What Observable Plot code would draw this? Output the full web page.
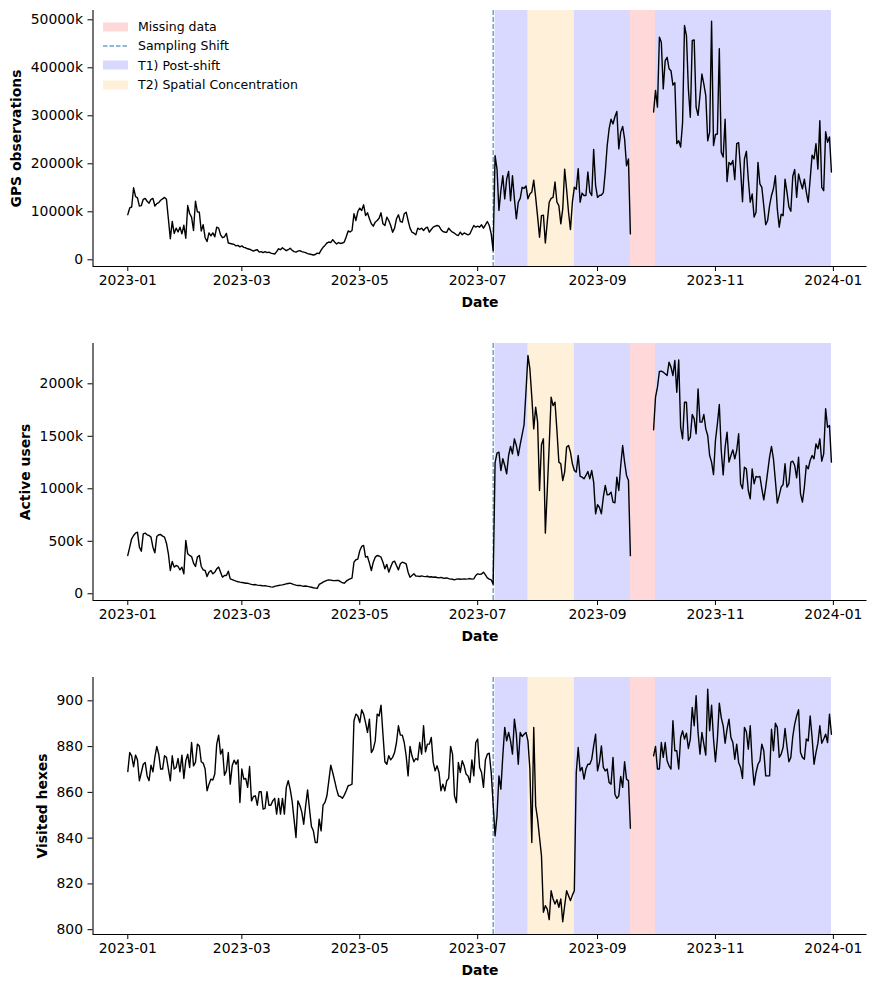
<!DOCTYPE html>
<html>
<head>
<meta charset="utf-8">
<script src="https://cdn.jsdelivr.net/npm/d3@7"></script>
<script src="https://cdn.jsdelivr.net/npm/@observablehq/plot@0.6"></script>
<style>
  body { margin: 0; background: #fff; }
  #chart { position: relative; width: 876px; font-family: "DejaVu Sans", sans-serif; }
  #chart svg { display: block; }
  .legend { position: absolute; left: 103px; top: 17px; font: 12.5px "DejaVu Sans", sans-serif; color: #000; }
  .legend .row { display: flex; align-items: center; height: 19.3px; }
  .legend svg { margin-right: 10px; }
</style>
</head>
<body>
<div id="chart"></div>
<script>
// Daily series for 2023 (index 0 = 2023-01-01); null = no data (18 Sep – 30 Sep outage)
const gpsObservationsK = [
  9400, 10800, 11000, 15000, 13200, 12900, 11200, 11300, 12600, 12800,
  12200, 11800, 12600, 12800, 11200, 11700, 11900, 12400, 12700, 13000,
  12600, 8500, 4400, 8000, 5500, 6600, 5800, 6800, 5400, 7200,
  4500, 11300, 9600, 8900, 6100, 12200, 10000, 9900, 6000, 7300,
  4600, 3800, 5600, 5000, 5600, 4800, 6800, 6600, 5200, 4600,
  4800, 5500, 3500, 3400, 3300, 3200, 2900, 3000, 2700, 2900,
  2600, 2500, 2300, 2200, 2000, 1800, 2000, 2100, 1600, 1700,
  1500, 1700, 1500, 1600, 1400, 1300, 1200, 1700, 2300, 2100,
  2500, 2200, 1900, 2100, 2400, 2000, 1700, 1600, 1800, 1900,
  1700, 1600, 1500, 1300, 1200, 1100, 1000, 1100, 1400, 1300,
  2000, 2600, 3000, 3500, 3700, 3600, 4200, 3700, 3300, 3600,
  3400, 3500, 3700, 4800, 6000, 5800, 6100, 9580, 8190, 10060,
  10760, 10270, 11460, 9230, 9790, 8540, 7500, 7010, 7840, 8190,
  8670, 9790, 7500, 7150, 8880, 8190, 7150, 5750, 6590, 8540,
  9380, 7980, 7840, 9580, 9920, 8190, 6590, 5750, 5540, 5200,
  6590, 6310, 6590, 6100, 6590, 6800, 5750, 6310, 6800, 7010,
  7150, 7010, 6310, 5900, 5750, 5750, 6590, 6100, 5750, 5540,
  5200, 5060, 5750, 5200, 5600, 5410, 5200, 5410, 6310, 7150,
  6800, 7010, 6800, 7290, 6590, 7290, 7980, 7150, 5400, 1900,
  21700, 18900, 10300, 14400, 17500, 12700, 16800, 18400, 12300, 17500,
  12700, 8540, 12000, 12800, 15100, 14900, 15400, 12700, 13700, 14100,
  16600, 13000, 9000, 4700, 9200, 9300, 3500, 7900, 12000, 12800,
  13000, 16200, 12000, 11300, 7500, 10600, 18900, 14700, 9900, 6300,
  12000, 15100, 14700, 19000, 12000, 13900, 13400, 13400, 18300, 14100,
  13400, 23000, 15500, 13000, 13400, 13500, 14000, 18300, 23800, 27300,
  29300, 28300, 29800, 30900, 23100, 26600, 27800, 25200, 19600, 21000,
  5400, null, null, null, null, null, null, null, null, null,
  null, null, 30800, 35300, 31800, 46400, 45300, 35600, 41500, 42200,
  39800, 39400, 36400, 36900, 24200, 24800, 23500, 28600, 48800, 46700,
  35600, 29700, 45700, 45800, 31800, 30100, 34200, 38700, 36600, 34200,
  24800, 26600, 49700, 23800, 26100, 26200, 44000, 22400, 21400, 29300,
  16300, 20300, 19800, 20700, 16700, 24200, 24400, 18900, 12100, 21000,
  22600, 16800, 12000, 13700, 8900, 9900, 20300, 15800, 15100, 11300,
  7300, 8200, 11300, 13400, 14800, 17500, 10600, 6800, 9500, 9200,
  16800, 14100, 11000, 10100, 17400, 18800, 13000, 17900, 16200, 14800,
  16800, 14100, 12000, 16800, 21800, 21000, 24200, 18900, 29000, 15100,
  14400, 26700, 24500, 25600, 18300
];

const activeUsersK = [
  365, 444, 524, 555, 578, 587, 444, 406, 571, 578,
  562, 555, 540, 444, 390, 546, 562, 565, 549, 540,
  482, 381, 222, 308, 254, 270, 260, 228, 254, 190,
  508, 381, 365, 355, 292, 260, 349, 365, 260, 228,
  222, 165, 206, 222, 190, 206, 238, 254, 206, 158,
  174, 174, 215, 142, 135, 127, 120, 115, 111, 108,
  105, 100, 101, 95, 90, 86, 88, 82, 80, 79,
  75, 78, 73, 70, 66, 63, 70, 75, 79, 82,
  85, 90, 95, 98, 101, 95, 88, 82, 79, 80,
  75, 72, 74, 70, 66, 62, 57, 54, 51, 89,
  100, 111, 120, 128, 133, 130, 127, 125, 128, 127,
  115, 105, 101, 120, 133, 142, 150, 301, 324, 330,
  410, 451, 460, 349, 355, 292, 222, 301, 349, 365,
  360, 349, 301, 238, 280, 206, 254, 301, 311, 270,
  228, 286, 301, 295, 286, 206, 158, 174, 190, 170,
  168, 165, 170, 166, 163, 167, 160, 162, 158, 160,
  155, 152, 156, 150, 148, 152, 145, 140, 138, 133,
  140, 142, 138, 140, 142, 140, 142, 145, 140, 142,
  174, 190, 185, 188, 206, 180, 152, 140, 133, 90,
  1250, 1340, 1349, 1174, 1286, 1222, 1143, 1317, 1403, 1333,
  1476, 1412, 1317, 1422, 1517, 1612, 1930, 2270, 2143, 1873,
  1571, 1778, 1635, 984, 1422, 1476, 578, 984, 1412, 1873,
  1793, 1825, 1555, 1254, 1238, 1079, 1159, 1397, 1412, 1349,
  1238, 1174, 1159, 1317, 1118, 1111, 1095, 1127, 1165, 1095,
  1174, 1064, 762, 848, 822, 762, 921, 1032, 943, 946,
  968, 873, 866, 1111, 984, 1222, 1412, 1254, 1127, 1079,
  363, null, null, null, null, null, null, null, null, null,
  null, null, 1562, 1873, 1968, 2117, 2120, 2111, 2095, 2079,
  2206, 2159, 2079, 2222, 1920, 2228, 1587, 1476, 1825, 1825,
  1460, 1492, 1708, 1666, 1524, 1952, 1635, 1635, 1708, 1571,
  1508, 1317, 1254, 1136, 1460, 1619, 1803, 1365, 1133, 1397,
  1540, 1254, 1317, 1371, 1286, 1365, 1524, 1048, 1000, 1206,
  1190, 984, 905, 1190, 1048, 1118, 1111, 1118, 1000, 895,
  1016, 1159, 1302, 1403, 1286, 1079, 864, 937, 1016, 1041,
  1238, 1016, 1048, 1254, 1263, 1222, 1105, 1302, 952, 873,
  1016, 1222, 1190, 1270, 1317, 1286, 1428, 1381, 1476, 1263,
  1333, 1762, 1587, 1603, 1254
];

const visitedHexes = [
  869.1, 877.4, 876, 871.2, 876.3, 874.2, 865.1, 868.7, 872.3, 873.1,
  867.2, 865.1, 871.9, 869, 875.3, 880.1, 876.7, 870.2, 870.2, 876,
  875.3, 870.2, 865.1, 876, 870.2, 870.9, 874.8, 869, 876.3, 866.1,
  873.8, 876.7, 870.9, 881.8, 871.6, 873.1, 881.1, 880.3, 873.4, 872.8,
  870.2, 860.7, 863.6, 865.8, 865.4, 868, 881.1, 885, 876.7, 878.9,
  867.5, 869.4, 877.4, 863.6, 871.6, 874.1, 872.3, 874.2, 855.6, 870.2,
  865.8, 866.1, 862.2, 871.3, 856.3, 858.2, 858.5, 854.4, 860.3, 860.3,
  852.7, 853, 860.3, 854.4, 854.4, 856.3, 857.4, 850.5, 857.4, 850.5,
  857.4, 850.5, 862.2, 865.1, 861.4, 856.3, 848.3, 840.3, 856.3, 854.4,
  851.5, 846.1, 854.1, 861.1, 852.7, 845.1, 843.2, 838.1, 838.1, 848.3,
  843.2, 854.4, 855.6, 858.5, 865.1, 871.9, 868.7, 865.1, 861.4, 858.5,
  858.2, 857.4, 858.8, 860.7, 862.9, 863.2, 863.6, 891.3, 894.2, 893.4,
  890.5, 896.1, 894.2, 890.5, 886.2, 892, 877.4, 878.9, 882.5, 894.2,
  893.4, 898.1, 885.4, 873.4, 872.3, 876, 874.2, 875.3, 877.4, 881.8,
  889.1, 885, 885, 881.8, 876, 867.2, 880.1, 876, 873.4, 874.8,
  874.2, 881.8, 876.7, 889.1, 877.7, 881.1, 881.1, 884, 873.1, 869.4,
  871.6, 868.7, 860.7, 863.6, 860.7, 865.1, 866.1, 880.1, 876.7, 858.5,
  855.6, 873.1, 868.7, 873.8, 871.6, 868, 867.2, 864.3, 874.2, 867.2,
  881.8, 883.3, 870.9, 868.7, 862.2, 874.2, 876.7, 877.1, 868.7, 854.9,
  841, 849.8, 867.2, 861.4, 876, 888.4, 882.5, 886.2, 882.5, 876.7,
  892, 885.4, 872.3, 886.2, 884.4, 885.4, 886.2, 882.5, 870.2, 838.1,
  888.4, 854.1, 848.3, 840.3, 832.3, 807.6, 810.5, 809, 804.4, 817,
  813.4, 811.2, 813.1, 809.8, 813.4, 803.5, 810.5, 817, 814.8, 812.7,
  815.1, 817, 868.7, 879.6, 869.4, 870.9, 865.8, 870.2, 872.3, 872.3,
  874.5, 880.3, 885.4, 869.4, 873.1, 880.3, 870.9, 869.4, 870.2, 864.3,
  863.6, 875.3, 859.2, 857.4, 858.5, 867, 862.2, 873.4, 865.8, 865.1,
  844.3, null, null, null, null, null, null, null, null, null,
  null, null, 876, 880.1, 870.2, 870.2, 881.8, 875.3, 881.8, 873.8,
  871.6, 870.2, 891.3, 878.2, 878.2, 870.2, 884, 886.9, 883.3, 885.9,
  879.2, 883.3, 897.1, 889.1, 902.2, 886.2, 876.7, 886.2, 881.1, 876.3,
  905.1, 886.9, 898.1, 883.3, 873.4, 883.3, 899, 892.7, 889.1, 881.5,
  887.6, 892, 884, 881.8, 874.5, 881.1, 873.1, 870.9, 866.1, 888.4,
  886.5, 878.9, 889.1, 873.1, 863.2, 868.7, 872.3, 873.8, 881.1, 878.2,
  867.2, 867.2, 867.2, 887.6, 878.2, 890.2, 888.4, 875.3, 876.7, 879.6,
  887.9, 880.1, 873.4, 875.3, 884.4, 889.8, 893.4, 896.1, 877.4, 875.3,
  874.5, 883.3, 882.5, 893.4, 884, 872.3, 877.4, 881.5, 889.1, 881.5,
  883.3, 885.4, 881.8, 894.2, 885.4
];

// Periods shaded behind the series (T1 is drawn first, the others on top)
const periodNames  = ["T1) Post-shift", "T2) Spatial Concentration", "Missing data"];
const periodStarts = ["2023-07-10", "2023-07-27", "2023-09-18"];
const periodEnds   = ["2023-12-31", "2023-08-20", "2023-10-01"];
const periodFills  = ["#d9d9ff", "#fff1d9", "#ffd9d9"];
const samplingShift = "2023-07-09";

const xTickDates = ["2023-01-01", "2023-03-01", "2023-05-01", "2023-07-01", "2023-09-01", "2023-11-01", "2024-01-01"];

const panelLabels = ["GPS observations", "Active users", "Visited hexes"];
const gpsTicks = [0, 10000, 20000, 30000, 40000, 50000];
const userTicks = [0, 500, 1000, 1500, 2000];
const hexTicks = [800, 820, 840, 860, 880, 900];

// ---------------------------------------------------------------------------
const parse = d3.utcParse("%Y-%m-%d");
const start = parse("2023-01-01");
const days = d3.utcDay.range(start, parse("2024-01-01"));
[gpsObservationsK, activeUsersK, visitedHexes].forEach((s, i) => {
  if (s.length !== days.length) throw new Error(`series ${i} has ${s.length} values`);
});

const DAY = 864e5;
const xDomain = [new Date(+start - 18.0 * DAY), new Date(+start + 382.4 * DAY)];
const periods = periodNames.map((name, i) => ({
  name, start: parse(periodStarts[i]), end: parse(periodEnds[i]), fill: periodFills[i]
}));
const kFormat = d => d === 0 ? "0" : `${d}k`;

function panel({values, yDomain, yTicks, yFormat, label, labelX, height, marginBottom}) {
  const data = days.map((date, i) => ({date, value: values[i]}));
  const marginLeft = 92.5;
  return Plot.plot({
    width: 876,
    height,
    marginTop: 10,
    marginBottom,
    marginLeft,
    marginRight: 9.5,
    style: {fontFamily: "DejaVu Sans, sans-serif", fontSize: "13.9px", color: "#000", background: "#fff", overflow: "visible"},
    x: {type: "utc", domain: xDomain},
    y: {domain: yDomain},
    color: {type: "identity"},
    marks: [
      Plot.rect(periods, {x1: "start", x2: "end", y1: () => yDomain[0], y2: () => yDomain[1], fill: "fill"}),
      Plot.ruleX([parse(samplingShift)], {stroke: "#1f77b4", strokeWidth: 1, strokeDasharray: "5 2"}),
      Plot.lineY(data, {x: "date", y: "value", stroke: "#000", strokeWidth: 1.4}),
      Plot.ruleX([xDomain[0]], {stroke: "#000", strokeWidth: 1.1}),
      Plot.ruleY([yDomain[0]], {stroke: "#000", strokeWidth: 1.1}),
      Plot.axisX({ticks: xTickDates.map(parse), tickFormat: d3.utcFormat("%Y-%m"), tickSize: 5, tickPadding: 4, label: null}),
      Plot.axisY({ticks: yTicks, tickFormat: yFormat, tickSize: 5, tickPadding: 5, label: null}),
      Plot.text(["Date"], {frameAnchor: "bottom", dy: 36, lineAnchor: "middle", textAnchor: "middle",
                           fontWeight: "bold", fontSize: 13.9, fill: "#000"}),
      Plot.text([label], {frameAnchor: "left", dx: labelX - marginLeft, rotate: -90, lineAnchor: "middle", textAnchor: "middle",
                          fontWeight: "bold", fontSize: 13.9, fill: "#000"})
    ]
  });
}

const chart = document.getElementById("chart");
chart.append(
  panel({values: gpsObservationsK, yDomain: [-1396, 51937], yTicks: gpsTicks, yFormat: kFormat,
         label: panelLabels[0], labelX: 16, height: 333, marginBottom: 67}),
  panel({values: activeUsersK, yDomain: [-64, 2384], yTicks: userTicks, yFormat: kFormat,
         label: panelLabels[1], labelX: 25, height: 334, marginBottom: 67}),
  panel({values: visitedHexes, yDomain: [797.9, 910.2], yTicks: hexTicks, yFormat: d => `${d}`,
         label: panelLabels[2], labelX: 42, height: 320, marginBottom: 53})
);

// Legend inside the top panel
const legendItems = [
  {name: "Missing data", kind: "patch", fill: periodFills[2]},
  {name: "Sampling Shift", kind: "dash", stroke: "#1f77b4"},
  {name: periodNames[0], kind: "patch", fill: periodFills[0]},
  {name: periodNames[1], kind: "patch", fill: periodFills[1]}
];
const legend = document.createElement("div");
legend.className = "legend";
for (const item of legendItems) {
  const row = document.createElement("div");
  row.className = "row";
  const swatch = item.kind === "patch"
    ? `<svg width="25" height="10"><rect x="0" y="0.5" width="25" height="9" fill="${item.fill}"/></svg>`
    : `<svg width="25" height="10"><line x1="0" x2="25" y1="5" y2="5" stroke="${item.stroke}" stroke-width="1.1" stroke-dasharray="4.5 2"/></svg>`;
  row.innerHTML = swatch + `<span>${item.name}</span>`;
  legend.append(row);
}
chart.append(legend);
</script>
</body>
</html>
